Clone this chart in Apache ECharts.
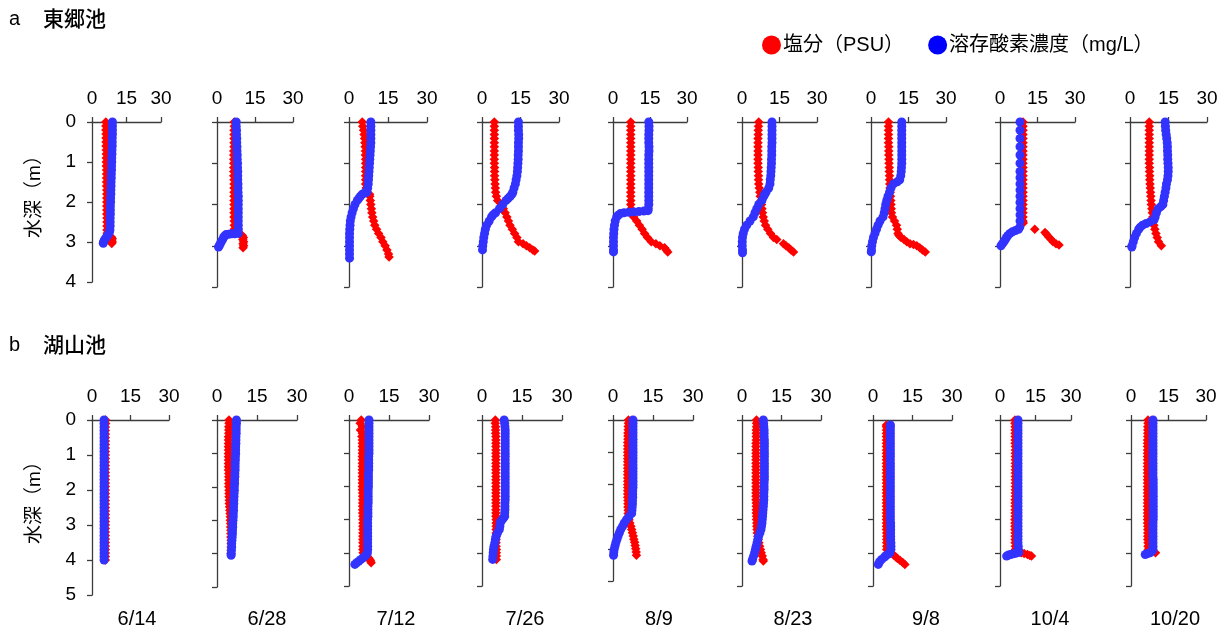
<!DOCTYPE html>
<html>
<head>
<meta charset="utf-8">
<script src="https://cdn.jsdelivr.net/npm/echarts@6/dist/echarts.min.js"></script>
<style>
html,body{margin:0;padding:0;background:#fff;}
#chart{width:1231px;height:633px;}
</style>
</head>
<body>
<div id="chart"></div>
<script>
// ---------- labels ----------
const dates = ['6/14','6/28','7/12','7/26','8/9','8/23','9/8','10/4','10/20'];
const rowTitles = [['a','東郷池'],['b','湖山池']];
const seriesNames = ['塩分（PSU）','溶存酸素濃度（mg/L）'];
const yTitle = '水深（m）';
const xTickMin = 0, xTickMax = 30, xTickStep = 15;
const depthMaxTop = 4, depthMaxBottom = 5;

// ---------- data: [depth (m), value] ----------
// a 東郷池
const togoSal_0614 = [[0,6.0],[0.1,6.0],[0.2,6.0],[0.3,6.1],[0.4,6.1],[0.5,6.1],[0.6,6.1],[0.7,6.2],[0.8,6.2],[0.9,6.2],[1.0,6.2],[1.1,6.2],[1.2,6.3],[1.3,6.3],[1.4,6.3],[1.5,6.3],[1.6,6.3],[1.7,6.4],[1.8,6.4],[1.9,6.4],[2.0,6.4],[2.1,6.4],[2.2,6.4],[2.3,6.4],[2.4,6.5],[2.5,6.5],[2.6,6.5],[2.7,6.5],[2.78,6.6],[2.88,8.5],[2.92,8.8],[2.96,8.6],[3.0,8.8],[3.04,8.6]];
const togoDo_0614 = [[0,8.9],[0.1,8.9],[0.2,8.9],[0.3,8.9],[0.4,8.8],[0.5,8.8],[0.6,8.8],[0.7,8.7],[0.8,8.7],[0.9,8.6],[1.0,8.6],[1.1,8.5],[1.2,8.5],[1.3,8.4],[1.4,8.4],[1.5,8.3],[1.6,8.3],[1.7,8.2],[1.8,8.2],[1.9,8.1],[2.0,8.1],[2.1,8.0],[2.2,8.0],[2.3,8.0],[2.4,7.9],[2.5,7.9],[2.6,7.9],[2.7,7.8],[2.75,7.6],[2.8,7.2],[2.85,6.6],[2.9,6.0],[2.95,5.4],[3.0,5.0],[3.03,4.9]];
const togoSal_0628 = [[0,6.8],[0.1,6.8],[0.2,6.7],[0.3,6.7],[0.4,6.7],[0.5,6.7],[0.6,6.7],[0.7,6.6],[0.8,6.6],[0.9,6.6],[1.0,6.6],[1.1,6.6],[1.2,6.6],[1.3,6.6],[1.4,6.7],[1.5,6.7],[1.6,6.7],[1.7,6.7],[1.8,6.7],[1.9,6.7],[2.0,6.7],[2.1,6.7],[2.2,6.7],[2.3,6.7],[2.4,6.8],[2.5,6.8],[2.6,6.8],[2.7,6.8],[2.75,10.0],[2.8,10.4],[2.85,10.2],[2.9,10.5],[2.95,10.3],[3.0,10.5],[3.05,10.3]];
const togoDo_0628 = [[0,7.6],[0.1,7.6],[0.2,7.7],[0.3,7.7],[0.4,7.8],[0.5,7.8],[0.6,7.9],[0.7,7.9],[0.8,8.0],[0.9,8.0],[1.0,8.1],[1.1,8.1],[1.2,8.2],[1.3,8.2],[1.4,8.2],[1.5,8.3],[1.6,8.3],[1.7,8.3],[1.8,8.4],[1.9,8.4],[2.0,8.4],[2.1,8.4],[2.2,8.4],[2.3,8.4],[2.4,8.4],[2.5,8.4],[2.6,8.4],[2.7,8.4],[2.71,7.0],[2.71,5.8],[2.72,4.6],[2.73,3.6],[2.76,3.0],[2.8,2.6],[2.85,2.2],[2.9,1.7],[2.95,1.3],[3.0,0.9],[3.03,0.6]];
const togoSal_0712 = [[0,5.1],[0.1,5.3],[0.2,5.6],[0.3,5.8],[0.4,6.0],[0.5,6.1],[0.6,6.2],[0.7,6.3],[0.8,6.3],[0.9,6.4],[1.0,6.4],[1.1,6.4],[1.2,6.4],[1.3,6.4],[1.4,6.4],[1.5,6.4],[1.6,6.6],[1.7,7.1],[1.75,7.9],[1.8,8.0],[1.9,8.2],[2.0,8.4],[2.1,8.6],[2.2,8.8],[2.3,9.1],[2.4,9.5],[2.5,9.9],[2.6,10.6],[2.7,11.4],[2.8,12.3],[2.9,13.0],[3.0,13.9],[3.1,14.6],[3.2,15.2],[3.27,15.4]];
const togoDo_0712 = [[0,8.4],[0.1,8.4],[0.2,8.4],[0.3,8.4],[0.4,8.4],[0.5,8.4],[0.6,8.3],[0.7,8.2],[0.8,8.1],[0.9,8.0],[1.0,7.9],[1.1,7.8],[1.2,7.7],[1.3,7.6],[1.4,7.5],[1.5,7.4],[1.6,7.2],[1.7,6.9],[1.72,6.0],[1.75,5.1],[1.8,4.4],[1.85,3.8],[1.9,3.2],[2.0,2.3],[2.1,1.7],[2.2,1.2],[2.3,0.8],[2.4,0.5],[2.5,0.4],[2.6,0.3],[2.7,0.2],[2.8,0.2],[2.9,0.2],[3.0,0.2],[3.1,0.2],[3.2,0.2],[3.3,0.2]];
const togoSal_0726 = [[0,4.8],[0.1,4.8],[0.2,4.8],[0.3,4.8],[0.4,4.8],[0.5,4.8],[0.6,4.8],[0.7,4.8],[0.8,4.8],[0.9,4.8],[1.0,4.8],[1.1,4.9],[1.2,4.9],[1.3,4.9],[1.4,5.0],[1.5,5.1],[1.6,5.2],[1.7,5.3],[1.8,5.6],[1.9,6.1],[2.0,7.6],[2.1,8.3],[2.2,9.0],[2.3,9.7],[2.4,10.3],[2.5,10.9],[2.6,11.8],[2.7,12.7],[2.8,13.6],[2.9,14.2],[2.95,16.0],[3.0,17.3],[3.05,18.6],[3.1,19.8],[3.13,20.5]];
const togoDo_0726 = [[0,14.2],[0.1,14.2],[0.2,14.2],[0.3,14.3],[0.4,14.3],[0.5,14.2],[0.6,14.2],[0.7,14.2],[0.8,14.1],[0.9,14.1],[1.0,14.0],[1.1,13.9],[1.2,13.8],[1.3,13.6],[1.4,13.3],[1.5,13.0],[1.6,12.5],[1.7,12.0],[1.75,11.7],[1.8,11.0],[1.85,10.2],[1.9,9.4],[2.0,8.1],[2.1,6.8],[2.2,5.3],[2.25,4.3],[2.3,3.7],[2.4,2.8],[2.5,1.8],[2.6,1.3],[2.7,1.0],[2.8,0.7],[2.9,0.5],[3.0,0.3],[3.1,0.2]];
const togoSal_0809 = [[0,7.2],[0.1,7.2],[0.2,7.2],[0.3,7.2],[0.4,7.2],[0.5,7.2],[0.6,7.2],[0.7,7.2],[0.8,7.2],[0.9,7.2],[1.0,7.2],[1.1,7.2],[1.2,7.2],[1.3,7.2],[1.4,7.2],[1.5,7.2],[1.6,7.2],[1.7,7.2],[1.8,7.2],[1.9,7.2],[2.0,7.2],[2.1,7.3],[2.2,7.4],[2.25,7.8],[2.3,8.4],[2.4,9.6],[2.5,10.7],[2.6,11.8],[2.7,12.8],[2.8,14.0],[2.9,15.5],[2.95,17.4],[3.0,19.0],[3.05,20.9],[3.1,21.6],[3.15,22.2]];
const togoDo_0809 = [[0,14.5],[0.1,14.6],[0.2,14.6],[0.3,14.5],[0.4,14.5],[0.5,14.5],[0.6,14.6],[0.7,14.6],[0.8,14.5],[0.9,14.5],[1.0,14.5],[1.1,14.5],[1.2,14.5],[1.3,14.5],[1.4,14.5],[1.5,14.5],[1.6,14.5],[1.7,14.5],[1.8,14.5],[1.9,14.5],[2.0,14.5],[2.1,14.3],[2.15,14.2],[2.16,12.5],[2.17,10.5],[2.18,8.5],[2.19,6.5],[2.2,4.5],[2.22,3.0],[2.26,2.1],[2.3,1.5],[2.4,0.9],[2.5,0.6],[2.6,0.4],[2.7,0.3],[2.8,0.2],[2.9,0.2],[3.0,0.2],[3.1,0.2],[3.15,0.2]];
const togoSal_0823 = [[0,6.7],[0.1,6.6],[0.2,6.5],[0.3,6.5],[0.4,6.4],[0.5,6.4],[0.6,6.4],[0.7,6.4],[0.8,6.4],[0.9,6.4],[1.0,6.4],[1.1,6.5],[1.2,6.5],[1.3,6.6],[1.4,6.6],[1.5,6.7],[1.6,6.9],[1.7,7.1],[1.8,7.3],[1.9,7.6],[2.0,7.8],[2.1,8.0],[2.2,8.2],[2.3,8.5],[2.4,8.9],[2.5,9.4],[2.6,10.3],[2.7,11.4],[2.8,12.6],[2.85,13.9],[2.95,16.6],[3.0,17.6],[3.05,18.7],[3.1,19.6],[3.15,20.6]];
const togoDo_0823 = [[0,12.0],[0.1,12.0],[0.2,12.0],[0.3,12.0],[0.4,12.0],[0.5,12.0],[0.6,11.9],[0.7,11.9],[0.8,11.9],[0.9,11.8],[1.0,11.8],[1.1,11.7],[1.2,11.6],[1.3,11.5],[1.4,11.3],[1.5,11.2],[1.6,10.7],[1.7,9.6],[1.75,9.1],[1.8,8.7],[1.9,8.0],[2.0,6.7],[2.1,5.9],[2.2,5.2],[2.3,4.5],[2.4,3.2],[2.5,1.9],[2.6,1.0],[2.7,0.5],[2.8,0.2],[2.9,0.1],[3.0,0.1],[3.1,0.2],[3.17,0.2]];
const togoSal_0908 = [[0,7.0],[0.1,7.0],[0.2,7.0],[0.3,7.0],[0.4,7.0],[0.5,7.0],[0.6,7.1],[0.7,7.1],[0.8,7.1],[0.9,7.2],[1.0,7.2],[1.1,7.3],[1.2,7.3],[1.3,7.4],[1.4,7.4],[1.5,7.5],[1.6,7.6],[1.7,7.7],[1.8,7.8],[1.9,7.9],[2.0,8.0],[2.1,8.1],[2.2,8.2],[2.3,8.6],[2.4,9.4],[2.5,10.2],[2.6,10.5],[2.7,10.8],[2.75,11.2],[2.8,12.0],[2.85,13.2],[2.9,14.3],[2.95,15.6],[2.97,17.0],[3.0,18.3],[3.05,19.5],[3.1,20.6],[3.15,21.7]];
const togoDo_0908 = [[0,12.3],[0.1,12.3],[0.2,12.3],[0.3,12.3],[0.4,12.3],[0.5,12.3],[0.6,12.3],[0.7,12.3],[0.8,12.3],[0.9,12.3],[1.0,12.3],[1.1,12.2],[1.2,12.1],[1.3,11.9],[1.4,11.5],[1.45,10.5],[1.5,9.0],[1.6,8.0],[1.7,7.4],[1.8,6.8],[1.9,6.3],[2.0,5.9],[2.1,5.6],[2.2,5.3],[2.3,4.8],[2.4,3.6],[2.5,2.8],[2.6,2.2],[2.7,1.6],[2.8,1.0],[2.9,0.6],[3.0,0.3],[3.1,0.2],[3.15,0.1]];
const togoSal_1004 = [[0,9.2],[0.1,9.2],[0.2,9.2],[0.3,9.2],[0.4,9.2],[0.5,9.2],[0.6,9.2],[0.7,9.2],[0.8,9.2],[0.9,9.2],[1.0,9.2],[1.1,9.2],[1.2,9.2],[1.3,9.2],[1.4,9.2],[1.5,9.2],[1.6,9.2],[1.7,9.2],[1.8,9.2],[1.9,9.2],[2.0,9.2],[2.1,9.2],[2.2,9.2],[2.3,9.2],[2.4,9.2],[2.45,9.3],[2.6,13.9],[2.68,18.0],[2.72,18.6],[2.78,19.4],[2.84,20.4],[2.9,21.2],[2.95,22.4],[2.98,23.6]];
const togoDo_1004 = [[0,8.0],[0.2,8.0],[0.4,8.0],[0.6,8.0],[0.8,8.0],[1.0,8.0],[1.2,8.0],[1.35,8.0],[1.5,8.0],[1.65,8.0],[1.8,8.0],[1.95,8.0],[2.1,8.0],[2.25,8.0],[2.4,8.0],[2.55,7.9],[2.6,7.4],[2.63,6.2],[2.66,5.0],[2.7,4.0],[2.75,3.2],[2.8,2.6],[2.85,2.1],[2.9,1.6],[2.95,1.0],[3.0,0.4]];
const togoSal_1020 = [[0,7.5],[0.1,7.5],[0.2,7.5],[0.3,7.5],[0.4,7.5],[0.5,7.5],[0.6,7.5],[0.7,7.5],[0.8,7.5],[0.9,7.5],[1.0,7.5],[1.1,7.6],[1.2,7.6],[1.3,7.7],[1.4,7.7],[1.5,7.8],[1.6,7.9],[1.7,8.0],[1.8,8.1],[1.9,8.2],[2.0,8.3],[2.1,8.5],[2.2,8.7],[2.3,8.9],[2.4,9.1],[2.5,9.3],[2.6,9.7],[2.7,10.1],[2.8,10.6],[2.9,11.1],[3.0,12.2]];
const togoDo_1020 = [[0,13.7],[0.1,13.8],[0.2,13.9],[0.3,14.1],[0.4,14.3],[0.5,14.5],[0.6,14.6],[0.7,14.6],[0.8,14.7],[0.9,14.7],[1.0,14.8],[1.1,14.9],[1.2,14.9],[1.3,14.8],[1.4,14.6],[1.5,14.2],[1.6,14.0],[1.7,13.7],[1.8,13.4],[1.9,13.1],[2.0,12.8],[2.05,12.0],[2.1,11.0],[2.2,10.3],[2.3,9.8],[2.37,9.4],[2.42,7.8],[2.46,6.3],[2.5,4.9],[2.55,4.0],[2.6,3.4],[2.7,2.5],[2.8,1.8],[2.9,1.3],[3.0,0.8],[3.03,0.7]];

// b 湖山池
const koyamaSal_0614 = [[0,5.3],[0.1,5.3],[0.2,5.2],[0.3,5.2],[0.4,5.2],[0.5,5.2],[0.6,5.2],[0.7,5.2],[0.8,5.2],[0.9,5.2],[1.0,5.2],[1.1,5.2],[1.2,5.2],[1.3,5.2],[1.4,5.2],[1.5,5.2],[1.6,5.2],[1.7,5.2],[1.8,5.2],[1.9,5.2],[2.0,5.2],[2.1,5.2],[2.2,5.2],[2.3,5.2],[2.4,5.2],[2.5,5.2],[2.6,5.2],[2.7,5.2],[2.8,5.2],[2.9,5.2],[3.0,5.2],[3.1,5.2],[3.2,5.2],[3.3,5.2],[3.4,5.2],[3.5,5.2],[3.6,5.2],[3.7,5.2],[3.8,5.2],[3.9,5.2],[4.0,5.2]];
const koyamaDo_0614 = [[0,4.7],[0.1,4.7],[0.2,4.7],[0.3,4.7],[0.4,4.7],[0.5,4.7],[0.6,4.7],[0.7,4.7],[0.8,4.7],[0.9,4.7],[1.0,4.7],[1.1,4.7],[1.2,4.7],[1.3,4.7],[1.4,4.7],[1.5,4.7],[1.6,4.7],[1.7,4.7],[1.8,4.7],[1.9,4.7],[2.0,4.7],[2.1,4.7],[2.2,4.7],[2.3,4.7],[2.4,4.7],[2.5,4.7],[2.6,4.7],[2.7,4.7],[2.8,4.7],[2.9,4.7],[3.0,4.7],[3.1,4.7],[3.2,4.7],[3.3,4.7],[3.4,4.7],[3.5,4.7],[3.6,4.7],[3.7,4.7],[3.8,4.7],[3.9,4.7],[4.0,4.7]];
const koyamaSal_0628 = [[0,4.5],[0.1,4.5],[0.2,4.4],[0.3,4.4],[0.4,4.4],[0.5,4.3],[0.6,4.3],[0.7,4.3],[0.8,4.3],[0.9,4.3],[1.0,4.3],[1.1,4.3],[1.2,4.3],[1.3,4.3],[1.4,4.3],[1.5,4.3],[1.6,4.4],[1.7,4.4],[1.8,4.4],[1.9,4.4],[2.0,4.4],[2.1,4.5],[2.2,4.5],[2.3,4.5],[2.4,4.6],[2.5,4.6],[2.6,4.7],[2.7,4.8],[2.8,4.9],[2.9,5.0],[3.0,5.0],[3.1,5.1],[3.2,5.1],[3.3,5.2],[3.4,5.2],[3.5,5.2],[3.6,5.3],[3.7,5.3],[3.8,5.3],[3.9,5.3],[4.0,5.3]];
const koyamaDo_0628 = [[0,7.3],[0.1,7.3],[0.2,7.2],[0.3,7.2],[0.4,7.2],[0.5,7.1],[0.6,7.1],[0.7,7.1],[0.8,7.0],[0.9,7.0],[1.0,7.0],[1.1,6.9],[1.2,6.9],[1.3,6.8],[1.4,6.8],[1.5,6.8],[1.6,6.7],[1.7,6.7],[1.8,6.6],[1.9,6.6],[2.0,6.5],[2.1,6.5],[2.2,6.4],[2.3,6.4],[2.4,6.3],[2.5,6.3],[2.6,6.2],[2.7,6.2],[2.8,6.1],[2.9,6.1],[3.0,6.0],[3.1,5.9],[3.2,5.9],[3.3,5.8],[3.4,5.8],[3.5,5.7],[3.6,5.6],[3.7,5.5],[3.8,5.5],[3.9,5.4],[4.0,5.3],[4.05,5.3]];
const koyamaSal_0712 = [[0,4.6],[0.1,4.2],[0.2,5.0],[0.3,4.3],[0.4,5.0],[0.5,4.8],[0.6,5.0],[0.7,5.0],[0.8,5.0],[0.9,5.0],[1.0,5.0],[1.1,5.0],[1.2,5.0],[1.3,5.0],[1.4,5.0],[1.5,5.0],[1.6,5.0],[1.7,5.0],[1.8,5.0],[1.9,5.0],[2.0,5.0],[2.1,5.0],[2.2,5.1],[2.3,5.1],[2.4,5.1],[2.5,5.1],[2.6,5.1],[2.7,5.1],[2.8,5.1],[2.9,5.2],[3.0,5.2],[3.1,5.2],[3.2,5.2],[3.3,5.2],[3.4,5.2],[3.5,5.2],[3.6,5.2],[3.7,5.2],[3.8,5.2],[3.9,5.2],[4.0,5.3],[4.05,6.0],[4.1,6.8],[4.15,7.3],[4.2,7.8],[4.25,8.1],[4.3,8.3]];
const koyamaDo_0712 = [[0,7.5],[0.1,7.5],[0.2,7.5],[0.3,7.5],[0.4,7.5],[0.5,7.5],[0.6,7.5],[0.7,7.5],[0.8,7.5],[0.9,7.5],[1.0,7.5],[1.1,7.4],[1.2,7.4],[1.3,7.4],[1.4,7.4],[1.5,7.4],[1.6,7.3],[1.7,7.3],[1.8,7.3],[1.9,7.3],[2.0,7.3],[2.1,7.2],[2.2,7.2],[2.3,7.2],[2.4,7.2],[2.5,7.2],[2.6,7.1],[2.7,7.1],[2.8,7.1],[2.9,7.1],[3.0,7.0],[3.1,7.0],[3.2,7.0],[3.3,7.0],[3.4,7.0],[3.5,7.0],[3.6,7.0],[3.7,7.0],[3.8,7.0],[3.9,7.0],[4.0,6.9],[4.05,6.6],[4.1,6.0],[4.15,5.3],[4.2,4.5],[4.25,3.7],[4.3,2.9],[4.35,2.2]];
const koyamaSal_0726 = [[0,5.0],[0.1,5.0],[0.2,5.1],[0.3,5.1],[0.4,5.1],[0.5,5.2],[0.6,5.2],[0.7,5.2],[0.8,5.2],[0.9,5.2],[1.0,5.2],[1.1,5.2],[1.2,5.2],[1.3,5.2],[1.4,5.2],[1.5,5.2],[1.6,5.2],[1.7,5.2],[1.8,5.2],[1.9,5.2],[2.0,5.2],[2.1,5.2],[2.2,5.2],[2.3,5.2],[2.4,5.2],[2.5,5.2],[2.6,5.2],[2.7,5.2],[2.8,5.2],[2.9,5.2],[3.0,5.3],[3.1,5.3],[3.2,5.3],[3.3,5.3],[3.4,5.3],[3.5,5.3],[3.6,5.3],[3.7,5.3],[3.8,5.3],[3.9,5.4],[4.0,5.4],[4.1,5.4],[4.2,5.4]];
const koyamaDo_0726 = [[0,8.3],[0.1,8.5],[0.2,8.6],[0.3,8.7],[0.4,8.7],[0.5,8.7],[0.6,8.7],[0.7,8.7],[0.8,8.7],[0.9,8.7],[1.0,8.7],[1.1,8.7],[1.2,8.7],[1.3,8.7],[1.4,8.7],[1.5,8.7],[1.6,8.7],[1.7,8.7],[1.8,8.7],[1.9,8.7],[2.0,8.7],[2.1,8.7],[2.2,8.7],[2.3,8.7],[2.4,8.7],[2.5,8.6],[2.6,8.6],[2.7,8.6],[2.8,8.5],[2.9,8.5],[2.95,8.1],[3.0,7.6],[3.05,7.1],[3.1,6.8],[3.2,6.7],[3.3,6.5],[3.4,5.8],[3.5,5.3],[3.6,5.0],[3.7,4.8],[3.8,4.5],[3.9,4.3],[4.0,4.2],[4.1,4.1],[4.2,4.0]];
const koyamaSal_0809 = [[0,5.8],[0.1,5.8],[0.2,5.7],[0.3,5.7],[0.4,5.6],[0.5,5.6],[0.6,5.6],[0.7,5.5],[0.8,5.5],[0.9,5.5],[1.0,5.5],[1.1,5.5],[1.2,5.5],[1.3,5.5],[1.4,5.5],[1.5,5.5],[1.6,5.5],[1.7,5.5],[1.8,5.5],[1.9,5.5],[2.0,5.5],[2.1,5.5],[2.2,5.5],[2.3,5.5],[2.4,5.5],[2.5,5.6],[2.6,5.6],[2.7,5.6],[2.8,5.7],[2.9,5.7],[3.0,5.7],[3.1,6.0],[3.2,6.3],[3.3,6.7],[3.4,7.0],[3.5,7.3],[3.6,7.6],[3.7,7.8],[3.8,8.1],[3.9,8.3],[4.0,8.5],[4.1,8.7],[4.2,8.8]];
const koyamaDo_0809 = [[0,7.5],[0.1,7.5],[0.2,7.5],[0.3,7.5],[0.4,7.5],[0.5,7.5],[0.6,7.5],[0.7,7.5],[0.8,7.5],[0.9,7.5],[1.0,7.5],[1.1,7.5],[1.2,7.5],[1.3,7.5],[1.4,7.5],[1.5,7.5],[1.6,7.5],[1.7,7.5],[1.8,7.5],[1.9,7.5],[2.0,7.5],[2.1,7.5],[2.2,7.4],[2.3,7.4],[2.4,7.4],[2.5,7.3],[2.6,7.3],[2.7,7.2],[2.8,7.1],[2.9,7.0],[3.0,6.0],[3.1,5.0],[3.2,4.2],[3.3,3.6],[3.4,2.9],[3.5,2.4],[3.6,1.9],[3.7,1.5],[3.8,1.1],[3.9,0.8],[4.0,0.5],[4.1,0.3],[4.2,0.2]];
const koyamaSal_0823 = [[0,5.5],[0.1,5.5],[0.2,5.5],[0.3,5.4],[0.4,5.4],[0.5,5.4],[0.6,5.4],[0.7,5.3],[0.8,5.3],[0.9,5.3],[1.0,5.3],[1.1,5.3],[1.2,5.3],[1.3,5.3],[1.4,5.3],[1.5,5.3],[1.6,5.3],[1.7,5.3],[1.8,5.3],[1.9,5.3],[2.0,5.3],[2.1,5.3],[2.2,5.3],[2.3,5.3],[2.4,5.3],[2.5,5.4],[2.6,5.4],[2.7,5.4],[2.8,5.4],[2.9,5.5],[3.0,5.5],[3.1,5.6],[3.2,5.6],[3.3,5.7],[3.4,5.8],[3.5,6.0],[3.6,6.2],[3.7,6.4],[3.8,6.7],[3.9,7.0],[4.0,7.3],[4.1,7.7],[4.2,8.0],[4.25,8.1]];
const koyamaDo_0823 = [[0,8.1],[0.1,8.2],[0.2,8.3],[0.3,8.4],[0.4,8.4],[0.5,8.4],[0.6,8.5],[0.7,8.5],[0.8,8.5],[0.9,8.5],[1.0,8.5],[1.1,8.5],[1.2,8.5],[1.3,8.5],[1.4,8.5],[1.5,8.5],[1.6,8.5],[1.7,8.5],[1.8,8.5],[1.9,8.4],[2.0,8.4],[2.1,8.4],[2.2,8.3],[2.3,8.3],[2.4,8.3],[2.5,8.2],[2.6,8.1],[2.7,8.0],[2.8,7.9],[2.9,7.8],[3.0,7.7],[3.1,7.6],[3.2,7.4],[3.3,7.2],[3.4,6.8],[3.5,6.3],[3.6,6.0],[3.7,5.7],[3.8,5.4],[3.9,5.1],[4.0,4.8],[4.1,4.4],[4.2,4.0],[4.25,3.8]];
const koyamaSal_0908 = [[0.15,5.1],[0.2,5.1],[0.3,5.1],[0.4,5.1],[0.5,5.1],[0.6,5.1],[0.7,5.1],[0.8,5.1],[0.9,5.1],[1.0,5.1],[1.1,5.1],[1.2,5.1],[1.3,5.1],[1.4,5.1],[1.5,5.1],[1.6,5.1],[1.7,5.1],[1.8,5.1],[1.9,5.1],[2.0,5.1],[2.1,5.1],[2.2,5.1],[2.3,5.1],[2.4,5.1],[2.5,5.1],[2.6,5.1],[2.7,5.1],[2.8,5.1],[2.9,5.1],[3.0,5.1],[3.1,5.1],[3.2,5.1],[3.3,5.1],[3.4,5.2],[3.5,5.2],[3.6,5.2],[3.7,5.2],[3.8,5.2],[3.9,5.2],[4.0,6.5],[4.07,7.8],[4.12,8.6],[4.17,9.3],[4.23,10.3],[4.29,11.3],[4.35,12.1]];
const koyamaDo_0908 = [[0.15,6.6],[0.2,6.6],[0.3,6.6],[0.4,6.6],[0.5,6.6],[0.6,6.6],[0.7,6.6],[0.8,6.6],[0.9,6.6],[1.0,6.6],[1.1,6.6],[1.2,6.6],[1.3,6.6],[1.4,6.6],[1.5,6.6],[1.6,6.6],[1.7,6.6],[1.8,6.6],[1.9,6.6],[2.0,6.6],[2.1,6.6],[2.2,6.6],[2.3,6.6],[2.4,6.6],[2.5,6.6],[2.6,6.6],[2.7,6.6],[2.8,6.6],[2.9,6.6],[3.0,6.6],[3.1,6.7],[3.2,6.7],[3.3,6.7],[3.4,6.7],[3.5,6.7],[3.6,6.7],[3.7,6.8],[3.8,6.8],[3.9,6.8],[4.0,6.4],[4.03,6.0],[4.08,5.0],[4.13,4.3],[4.2,3.3],[4.27,2.5],[4.35,2.0]];
const koyamaSal_1004 = [[0,6.3],[0.1,6.3],[0.2,6.4],[0.3,6.4],[0.4,6.4],[0.5,6.4],[0.6,6.4],[0.7,6.4],[0.8,6.5],[0.9,6.5],[1.0,6.5],[1.1,6.5],[1.2,6.5],[1.3,6.5],[1.4,6.5],[1.5,6.5],[1.6,6.5],[1.7,6.5],[1.8,6.5],[1.9,6.5],[2.0,6.5],[2.1,6.5],[2.2,6.5],[2.3,6.5],[2.4,6.4],[2.5,6.4],[2.6,6.4],[2.7,6.4],[2.8,6.4],[2.9,6.4],[3.0,6.3],[3.1,6.3],[3.2,6.3],[3.3,6.3],[3.4,6.4],[3.5,6.4],[3.6,6.4],[3.7,6.4],[3.8,6.5],[3.9,6.5],[3.95,6.6],[4.0,9.0],[4.02,10.2],[4.05,11.6],[4.08,12.6],[4.1,13.3]];
const koyamaDo_1004 = [[0,7.6],[0.1,7.6],[0.2,7.6],[0.3,7.6],[0.4,7.6],[0.5,7.6],[0.6,7.6],[0.7,7.6],[0.8,7.6],[0.9,7.6],[1.0,7.6],[1.1,7.6],[1.2,7.6],[1.3,7.6],[1.4,7.6],[1.5,7.6],[1.6,7.6],[1.7,7.6],[1.8,7.6],[1.9,7.6],[2.0,7.6],[2.1,7.6],[2.2,7.6],[2.3,7.6],[2.4,7.6],[2.5,7.6],[2.6,7.6],[2.7,7.6],[2.8,7.6],[2.9,7.6],[3.0,7.6],[3.1,7.6],[3.2,7.6],[3.3,7.6],[3.4,7.6],[3.5,7.6],[3.6,7.6],[3.7,7.6],[3.8,7.7],[3.9,7.7],[3.95,7.8],[3.99,7.9],[4.01,6.8],[4.03,5.6],[4.05,4.5],[4.07,3.6],[4.1,2.8]];
const koyamaSal_1020 = [[0,6.8],[0.1,6.8],[0.2,6.7],[0.3,6.7],[0.4,6.7],[0.5,6.7],[0.6,6.6],[0.7,6.6],[0.8,6.6],[0.9,6.6],[1.0,6.6],[1.1,6.6],[1.2,6.6],[1.3,6.6],[1.4,6.6],[1.5,6.6],[1.6,6.6],[1.7,6.6],[1.8,6.6],[1.9,6.6],[2.0,6.6],[2.1,6.6],[2.2,6.6],[2.3,6.6],[2.4,6.6],[2.5,6.6],[2.6,6.6],[2.7,6.6],[2.8,6.6],[2.9,6.6],[3.0,6.6],[3.1,6.6],[3.2,6.7],[3.3,6.7],[3.4,6.7],[3.5,6.7],[3.6,6.7],[3.7,6.8],[3.8,6.8],[3.9,6.9],[3.95,7.6],[4.0,9.8]];
const koyamaDo_1020 = [[0,8.8],[0.1,8.8],[0.2,8.8],[0.3,8.8],[0.4,8.8],[0.5,8.8],[0.6,8.8],[0.7,8.8],[0.8,8.8],[0.9,8.8],[1.0,8.8],[1.1,8.8],[1.2,8.8],[1.3,8.8],[1.4,8.8],[1.5,8.8],[1.6,8.8],[1.7,8.8],[1.8,8.9],[1.9,8.9],[2.0,8.9],[2.1,8.9],[2.2,8.9],[2.3,8.9],[2.4,8.9],[2.5,8.9],[2.6,8.9],[2.7,8.9],[2.8,8.9],[2.9,8.9],[3.0,8.9],[3.1,8.8],[3.2,8.8],[3.3,8.8],[3.4,8.8],[3.5,8.8],[3.6,8.8],[3.7,8.8],[3.8,8.8],[3.9,8.8],[3.95,8.4],[4.0,7.6],[4.02,6.6],[4.05,5.7]];

const togoSal = [togoSal_0614,togoSal_0628,togoSal_0712,togoSal_0726,togoSal_0809,togoSal_0823,togoSal_0908,togoSal_1004,togoSal_1020];
const togoDo  = [togoDo_0614,togoDo_0628,togoDo_0712,togoDo_0726,togoDo_0809,togoDo_0823,togoDo_0908,togoDo_1004,togoDo_1020];
const koyamaSal = [koyamaSal_0614,koyamaSal_0628,koyamaSal_0712,koyamaSal_0726,koyamaSal_0809,koyamaSal_0823,koyamaSal_0908,koyamaSal_1004,koyamaSal_1020];
const koyamaDo  = [koyamaDo_0614,koyamaDo_0628,koyamaDo_0712,koyamaDo_0726,koyamaDo_0809,koyamaDo_0823,koyamaDo_0908,koyamaDo_1004,koyamaDo_1020];

// ---------- layout (pixels) ----------
const topRow = {top:122, panels:[[92,69,160],[217,76,165],[349,78,165],[482,77,165],[613,74,165],[742,75,165],[871,75,165],[1000,75,165],[1130,77,165]]};
const botRow = {top:420, panels:[[92,77,175],[217,80,167],[349,80,166],[482,80,166],[613,80,161],[742,79,166],[873,79,166],[1000,71,166],[1131,75,166]]};
const dateX = [137,267,396,525,659,793,926,1050,1175];

const RED = '#ff0000', BLUE = '#3333ff', AXIS = '#3c3c3c';
const NUM_FONT = 'Liberation Sans, Arial, sans-serif';
const CJK_FONT = 'Liberation Sans, Noto Sans CJK JP, sans-serif';

const grids = [], xAxes = [], yAxes = [], series = [];
function addRow(row, salArr, doArr, depthMax) {
  row.panels.forEach((p, i) => {
    const idx = grids.length;
    grids.push({left:p[0], top:row.top, width:p[1], height:p[2], containLabel:false});
    xAxes.push({
      gridIndex:idx, type:'value', position:'top', min:xTickMin, max:xTickMax, interval:xTickStep,
      axisLine:{show:true, onZero:false, lineStyle:{color:AXIS, width:1.3}},
      axisTick:{show:true, length:5, lineStyle:{color:AXIS, width:1.3}},
      axisLabel:{show:true, margin:14, fontSize:19, color:'#000', fontFamily:NUM_FONT},
      splitLine:{show:false}
    });
    yAxes.push({
      gridIndex:idx, type:'value', inverse:true, min:0, max:depthMax, interval:1,
      axisLine:{show:true, onZero:false, lineStyle:{color:AXIS, width:1.3}},
      axisTick:{show:true, length:5, lineStyle:{color:AXIS, width:1.3}},
      axisLabel:{show:i===0, margin:16, fontSize:19, color:'#000', fontFamily:NUM_FONT},
      splitLine:{show:false}
    });
    series.push({
      name:seriesNames[0], type:'scatter', xAxisIndex:idx, yAxisIndex:idx, clip:false,
      symbol:'diamond', symbolSize:9.5, itemStyle:{color:RED, opacity:1}, z:2,
      emphasis:{disabled:true},
      data:salArr[i].map(d => [d[1], d[0]])
    });
    series.push({
      name:seriesNames[1], type:'scatter', xAxisIndex:idx, yAxisIndex:idx, clip:false,
      symbol:'circle', symbolSize:9, itemStyle:{color:BLUE, opacity:1}, z:3,
      emphasis:{disabled:true},
      data:doArr[i].map(d => [d[1], d[0]])
    });
  });
}
addRow(topRow, togoSal, togoDo, depthMaxTop);
addRow(botRow, koyamaSal, koyamaDo, depthMaxBottom);

const graphics = [];
// row titles
[[21],[347]].forEach((y, r) => {
  graphics.push({type:'text', left:9, top:y[0]-12, style:{text:rowTitles[r][0], font:'20px ' + NUM_FONT, fill:'#000'}});
  graphics.push({type:'text', left:43, top:y[0]-13, style:{text:rowTitles[r][1], font:'500 21px Noto Sans CJK JP', fill:'#000'}});
});
// y titles (rotated)
[[35,192],[35,498]].forEach(pos => {
  graphics.push({type:'text', x:pos[0], y:pos[1], rotation:Math.PI/2,
    style:{text:yTitle, font:'19px ' + CJK_FONT, fill:'#000', align:'center', verticalAlign:'middle'}});
});
// date labels
dates.forEach((d, i) => {
  graphics.push({type:'text', x:dateX[i], y:619,
    style:{text:d, font:'20px ' + NUM_FONT, fill:'#000', align:'center', verticalAlign:'middle'}});
});

const chart = echarts.init(document.getElementById('chart'), null, {renderer:'canvas'});
chart.setOption({
  animation:false,
  backgroundColor:'#fff',
  legend:{
    left:757, top:30, itemWidth:19, itemHeight:19, itemGap:24,
    textStyle:{fontSize:20, color:'#000', fontFamily:CJK_FONT, padding:[0,0,0,-3]},
    data:[
      {name:seriesNames[0], icon:'circle', itemStyle:{color:'#ff0000', opacity:1}},
      {name:seriesNames[1], icon:'circle', itemStyle:{color:'#0000ff', opacity:1}}
    ],
    selectedMode:false
  },
  grid:grids, xAxis:xAxes, yAxis:yAxes, series:series, graphic:graphics
});
</script>
</body>
</html>
